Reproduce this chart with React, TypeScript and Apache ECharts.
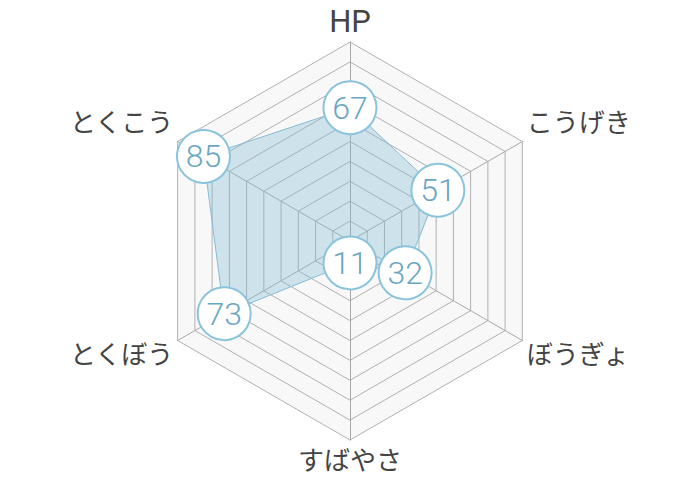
import * as echarts from "echarts";
import { useEffect, useRef } from "react";

// ECharts lays radar indicators out counter-clockwise from the top,
// so the stats are listed in that order.
const indicatorNames = ["HP", "とくこう", "とくぼう", "すばやさ", "ぼうぎょ", "こうげき"];
const statValues = [67, 85, 73, 11, 32, 51];
const MAX_VALUE = 100;

const KANA_FONT = '"Noto Sans CJK JP", "Noto Sans", sans-serif';
const DIGIT_FONT = 'Roboto, "Noto Sans", sans-serif';

// which side of the hexagon each label sits on: upper labels go above the vertex, lower below
const upperNames = ["とくこう", "こうげき"];
const lowerNames = ["とくぼう", "ぼうぎょ"];

export default function App() {
  const containerRef = useRef<HTMLDivElement>(null);

  useEffect(() => {
    const container = containerRef.current;
    if (!container) {
      return;
    }
    const chart = echarts.init(container, undefined, { renderer: "svg" });

    const kana = { fontSize: 26, fontFamily: KANA_FONT, color: "#444444" };

    const option: echarts.EChartsOption = {
      animation: false,
      backgroundColor: "#ffffff",
      radar: {
        center: [350, 241],
        radius: 199,
        startAngle: 90,
        splitNumber: 10,
        shape: "polygon",
        indicator: indicatorNames.map((name) => ({ name, max: MAX_VALUE })),
        nameGap: 5,
        axisName: {
          color: "#444444",
          fontSize: 26,
          fontFamily: KANA_FONT,
          formatter: (name?: string) => {
            if (name === "HP") return `{latin|${name}}`;
            if (upperNames.includes(name ?? "")) return `{up|${name}}`;
            if (lowerNames.includes(name ?? "")) return `{down|${name}}`;
            return `{kana|${name}}`;
          },
          rich: {
            latin: { fontSize: 31, fontFamily: DIGIT_FONT, color: "#444444" },
            kana,
            up: { ...kana, padding: [0, 0, 38, 0] },
            down: { ...kana, padding: [18, 0, 0, 0] },
          },
        },
        splitArea: { show: true, areaStyle: { color: ["#f8f8f8"] } },
        splitLine: { lineStyle: { color: "#b0b0b0", width: 1 } },
        axisLine: { lineStyle: { color: "#a8a8a8", width: 1 } },
      },
      series: [
        {
          type: "radar",
          data: [
            {
              value: statValues,
              symbol: "circle",
              symbolSize: 53,
              itemStyle: { color: "#ffffff", borderColor: "#8ac4dc", borderWidth: 2 },
              lineStyle: { color: "#86bcd4", width: 1 },
              areaStyle: { color: "rgba(130, 185, 212, 0.5)" },
              label: {
                show: true,
                position: "inside",
                color: "#6aa6c2",
                fontSize: 32,
                fontWeight: 300,
                fontFamily: DIGIT_FONT,
              },
            },
          ],
        },
      ],
    };
    chart.setOption(option);

    return () => {
      chart.dispose();
    };
  }, []);

  return <div ref={containerRef} style={{ width: 700, height: 480, margin: -8 }} />;
}
